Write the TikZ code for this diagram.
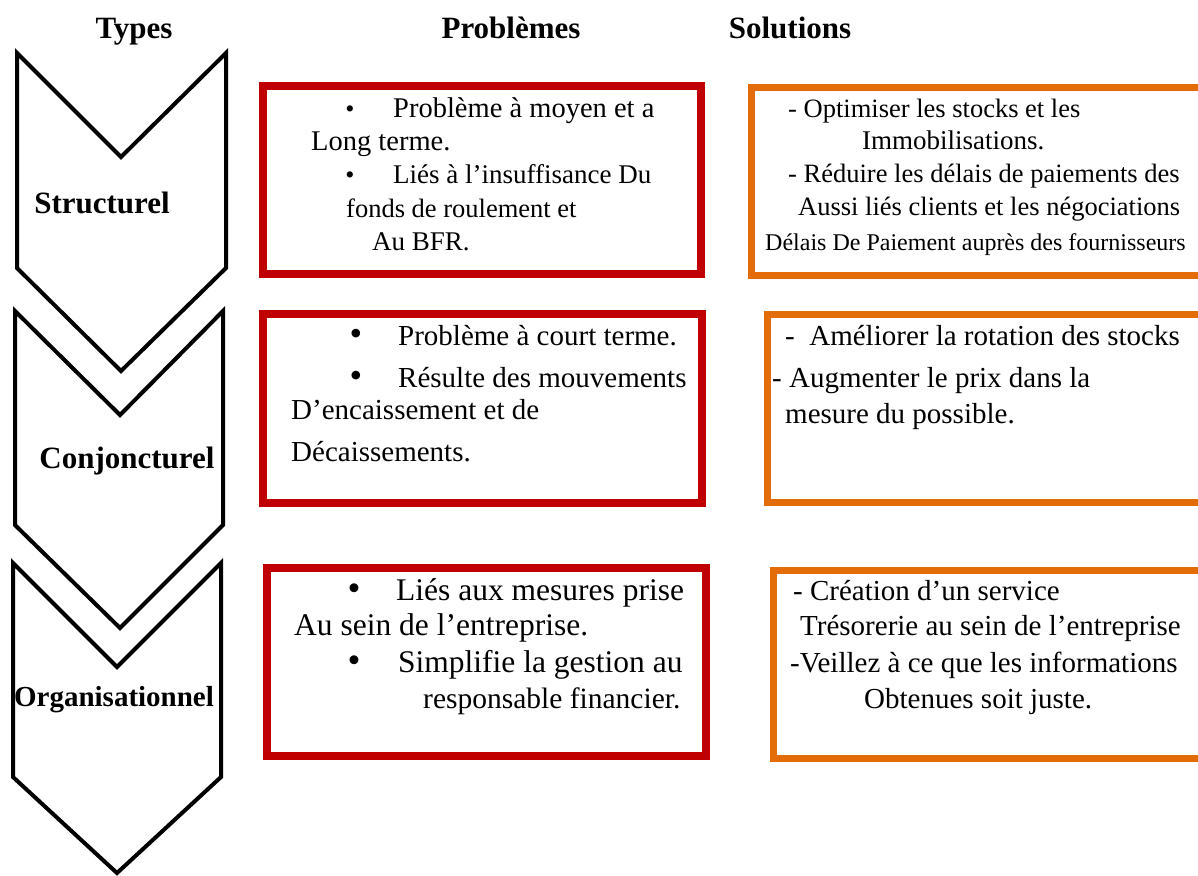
\documentclass[tikz,border=0pt]{standalone}
\usepackage{fontspec}
\setmainfont{Liberation Serif}
\usepackage{xcolor}
\usepackage{tikz}
\definecolor{boxred}{HTML}{C00000}
\definecolor{boxorange}{HTML}{E36C09}
\newcommand{\fs}[1]{\fontsize{#1}{#1}\selectfont}
\newcommand{\blt}[1]{{\fs{#1}\textbullet}}

\begin{document}
\begin{tikzpicture}[x=1pt,y=-1pt,
    chev/.style={line width=4pt,draw=black,fill=white},
    redbox/.style={line width=8pt,draw=boxred},
    orbox/.style={line width=7pt,draw=boxorange},
    ln/.style={anchor=base west,inner sep=0pt},
    bl/.style={anchor=base,inner sep=0pt},
    head/.style={anchor=base,inner sep=0pt,font=\fs{31}\bfseries}]
        \useasboundingbox (0,0) rectangle (1198,875);
        \node[head] (types) at (134,38){Types};
        \node[head] (probs) at (511,38){Problèmes};
        \node[head] (sols) at (790,38){Solutions};
        \draw[chev] (17,53)--(121,157)--(226,53)--(226,268)--(121,371)--(17,268)--cycle;
        \draw[chev] (15,311)--(120,415)--(223,311)--(223,525)--(120,628)--(15,525)--cycle;
        \draw[chev] (13,563)--(117,667)--(221,563)--(221,777)--(117,873)--(13,777)--cycle;
        \node[head] (struct) at (102,213){Structurel};
        \node[head] (conj) at (127,468){Conjoncturel};
        \node[head,font=\fs{29}\bfseries] (orga) at (114,706){Organisationnel};
        \draw[redbox] (263,86) rectangle (701,274);
        \draw[orbox] (751,87) rectangle (1210,275);
        \draw[redbox] (263,314) rectangle (702,503);
        \draw[orbox] (767,314) rectangle (1210,502);
        \draw[redbox] (267,568) rectangle (706,756);
        \draw[orbox] (773,570) rectangle (1210,758);
        \begin{scope}[every node/.append style={font=\fs{27}}]
            \node[bl] (pa0) at (350,117){\blt{26}};
            \node[ln,font=\fs{28.5}] (pa1) at (393,117){Problème à moyen et a};
            \node[ln,font=\fs{28.5}] (pa2) at (311,150){Long terme.};
            \node[bl] (pa3) at (350,183){\blt{26}};
            \node[ln] (pa4) at (393,183){Liés à l’insuffisance Du};
            \node[ln,font=\fs{26.5}] (pa5) at (346,217){fonds de roulement et};
            \node[ln] (pa6) at (372,250){Au BFR.};
        \end{scope}
        \begin{scope}[every node/.append style={font=\fs{26.5}}]
            \node[ln] (sa1) at (788,117){- Optimiser les stocks et les};
            \node[ln,font=\fs{27}] (sa2) at (862,149){Immobilisations.};
            \node[ln] (sa3) at (788,182){- Réduire les délais de paiements des};
            \node[ln] (sa4) at (798,215){Aussi liés clients et les négociations};
            \node[ln,font=\fs{24}] (sa5) at (765,250){Délais De Paiement auprès des fournisseurs};
        \end{scope}
        \begin{scope}[every node/.append style={font=\fs{29}}]
            \node[bl] (pb0) at (356,345){\blt{36}};
            \node[ln] (pb1) at (398,345){Problème à court terme.};
            \node[bl] (pb2) at (356,387){\blt{36}};
            \node[ln] (pb3) at (398,387){Résulte des mouvements};
            \node[ln] (pb4) at (291,419){D’encaissement et de};
            \node[ln] (pb5) at (291,461){Décaissements.};
            \node[ln] (sb1) at (785,345){-\ \ Améliorer la rotation des stocks};
            \node[ln] (sb2) at (772,387){- Augmenter le prix dans la};
            \node[ln] (sb3) at (785,423){mesure du possible.};
        \end{scope}
        \begin{scope}[every node/.append style={font=\fs{31.5}}]
            \node[bl] (pc0) at (354,600){\blt{37}};
            \node[ln] (pc1) at (396,600){Liés aux mesures prise};
            \node[ln] (pc2) at (294,635){Au sein de l’entreprise.};
            \node[bl] (pc3) at (354,672){\blt{37}};
            \node[ln] (pc4) at (398,672){Simplifie la gestion au};
            \node[ln,font=\fs{29.5}] (pc5) at (423,708){responsable financier.};
        \end{scope}
        \begin{scope}[every node/.append style={font=\fs{29}}]
            \node[ln] (sc1) at (793,600){- Création d’un service};
            \node[ln] (sc2) at (800,635){Trésorerie au sein de l’entreprise};
            \node[ln] (sc3) at (790,672){-Veillez à ce que les informations};
            \node[ln] (sc4) at (864,708){Obtenues soit juste.};
        \end{scope}
    \end{tikzpicture}
\end{document}
